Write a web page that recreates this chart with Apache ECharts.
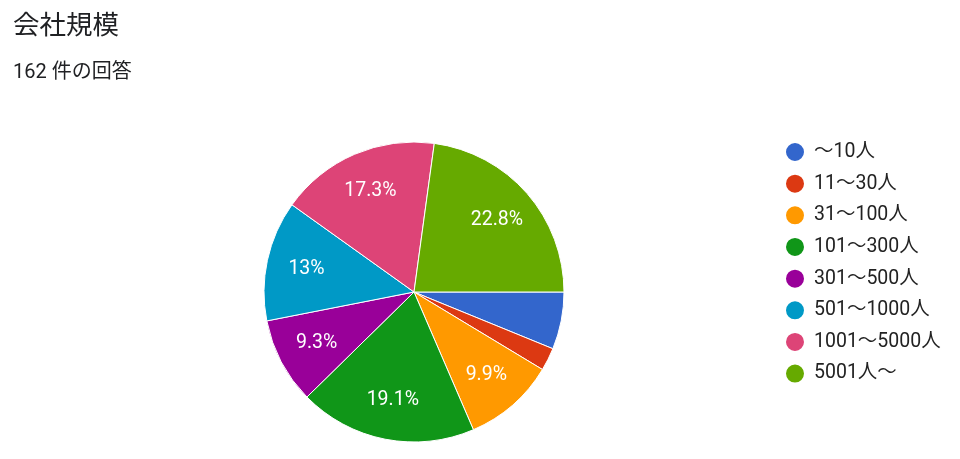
<!DOCTYPE html>
<html><head><meta charset="utf-8">
<script src="https://cdn.jsdelivr.net/npm/echarts@6/dist/echarts.min.js"></script>
<style>html,body{margin:0;padding:0;background:#fff}#c{width:960px;height:459px}</style>
</head><body><div id="c"></div>
<script>
const categories = ['～10人','11～30人','31～100人','101～300人','301～500人','501～1000人','1001～5000人','5001人～'];
const counts = [10, 4, 16, 31, 15, 21, 28, 37];
const colors = ['#3366cc','#dc3912','#ff9900','#109618','#990099','#0099c6','#dd4477','#66aa00'];
const titleText = '会社規模';
const subText = '162 件の回答';

const total = counts.reduce((a,b)=>a+b,0);
const FONT = 'Roboto, "Noto Sans CJK JP", sans-serif';
const data = categories.map((n,i)=>({name:n, value:counts[i], itemStyle:{color:colors[i]}}));
const labelData = categories.map((n,i)=>({name:n, value:counts[i], label:{show: counts[i]/total >= 0.08}}));

const chart = echarts.init(document.getElementById('c'), null, {renderer:'canvas'});
chart.setOption({
  animation:false,
  title:[
    {text:titleText, left:13, top:14, padding:0, textStyle:{fontSize:26.5, fontWeight:'normal', color:'#202124', fontFamily:FONT}},
    {text:subText, left:13, top:63, padding:0, textStyle:{fontSize:20, fontWeight:'normal', color:'#202124', fontFamily:FONT}}
  ],
  legend:{
    orient:'vertical', left:784, top:141, icon:'circle', padding:0,
    itemWidth:20, itemHeight:20, itemGap:9.66,
    data:categories,
    textStyle:{fontSize:19.5, lineHeight:20, color:'#222', fontFamily:FONT, padding:[0,0,0,4]}
  },
  series:[
    {
      type:'pie', center:[414,292], radius:[0,150], startAngle:0, clockwise:true,
      data:data, label:{show:false}, labelLine:{show:false},
      itemStyle:{borderColor:'#fff', borderWidth:1},
      emphasis:{disabled:true}
    },
    {
      type:'pie', center:[414,292], radius:[64,150], startAngle:0, clockwise:true,
      data:labelData, silent:true, legendHoverLink:false,
      itemStyle:{color:'rgba(0,0,0,0)', borderWidth:0},
      label:{position:'inside', color:'#fff', fontSize:19.5, fontFamily:FONT, padding:[6,0,0,0],
        formatter:(p)=>{ return (Math.round(p.value/total*1000)/10) + '%'; }},
      labelLine:{show:false},
      emphasis:{disabled:true}
    }
  ]
});
</script></body></html>
